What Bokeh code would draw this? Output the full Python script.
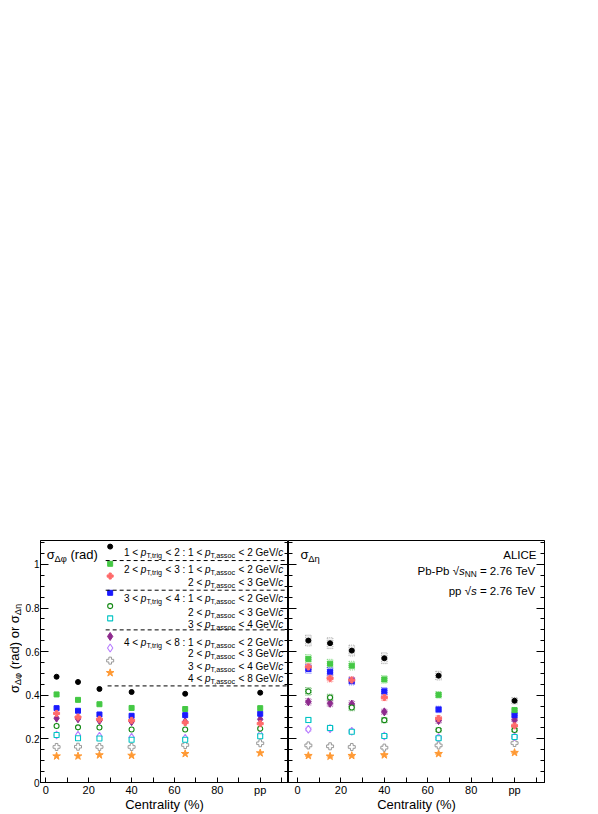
import math
from bokeh.plotting import figure
from bokeh.models import Range1d, FixedTicker, LinearAxis, Label
from bokeh.layouts import row
from bokeh.embed import file_html
from bokeh.resources import INLINE

FONT = "Liberation Sans"

# ---------------- data ----------------
centrality = [5, 15, 25, 40, 65, 100]          # 100 = pp
x_tick_values = [0, 20, 40, 60, 80, 100]
x_tick_labels = ["0", "20", "40", "60", "80", "pp"]
x_minor_values = [10, 30, 50, 70, 90, 110]
y_tick_values = [0, 0.2, 0.4, 0.6, 0.8, 1.0]
y_tick_labels = ["0", "0.2", "0.4", "0.6", "0.8", "1"]
y_minor_values = [0.05, 0.1, 0.15, 0.25, 0.3, 0.35, 0.45, 0.5, 0.55, 0.65, 0.7, 0.75,
                  0.85, 0.9, 0.95, 1.05, 1.1]

trig_lo = ["1", "2", "2", "3", "3", "3", "4", "4", "4", "4"]
trig_hi = ["2", "3", "3", "4", "4", "4", "8", "8", "8", "8"]
assoc_lo = ["1", "1", "2", "1", "2", "3", "1", "2", "3", "4"]
assoc_hi = ["2", "2", "3", "2", "3", "4", "2", "3", "4", "8"]
first_of_trig = [True, True, False, True, False, False, True, False, False, False]

# sigma_dphi (rad)
dphi_1_2_1_2 = [0.485, 0.461, 0.429, 0.415, 0.407, 0.412]
dphi_2_3_1_2 = [0.404, 0.379, 0.359, 0.342, 0.337, 0.341]
dphi_2_3_2_3 = [0.317, 0.300, 0.290, 0.285, 0.275, 0.270]
dphi_3_4_1_2 = [0.341, 0.329, 0.312, 0.306, 0.309, 0.315]
dphi_3_4_2_3 = [0.259, 0.253, 0.252, 0.243, 0.243, 0.247]
dphi_3_4_3_4 = [0.218, 0.203, 0.202, 0.196, 0.196, 0.212]
dphi_4_8_1_2 = [0.295, 0.292, 0.284, 0.279, 0.279, 0.290]
dphi_4_8_2_3 = [0.218, 0.216, 0.212, 0.207, 0.203, 0.220]
dphi_4_8_3_4 = [0.163, 0.164, 0.163, 0.163, 0.172, 0.180]
dphi_4_8_4_8 = [0.121, 0.121, 0.126, 0.124, 0.132, 0.135]

# sigma_deta
deta_1_2_1_2 = [0.651, 0.639, 0.605, 0.570, 0.490, 0.375]
deta_2_3_1_2 = [0.567, 0.545, 0.536, 0.473, 0.402, 0.332]
deta_2_3_2_3 = [0.530, 0.478, 0.470, 0.390, 0.294, 0.260]
deta_3_4_1_2 = [0.521, 0.508, 0.465, 0.418, 0.335, 0.309]
deta_3_4_2_3 = [0.418, 0.390, 0.344, 0.286, 0.241, 0.241]
deta_3_4_3_4 = [0.287, 0.250, 0.233, 0.213, 0.203, 0.209]
deta_4_8_1_2 = [0.370, 0.363, 0.360, 0.324, 0.284, 0.287]
deta_4_8_2_3 = [0.244, 0.247, 0.235, 0.213, 0.206, 0.210]
deta_4_8_3_4 = [0.170, 0.166, 0.163, 0.160, 0.170, 0.181]
deta_4_8_4_8 = [0.123, 0.120, 0.123, 0.126, 0.132, 0.137]

# systematic uncertainty (full box height) on sigma_deta
deta_sys_1_2_1_2 = [0.050, 0.050, 0.050, 0.050, 0.040, 0.030]
deta_sys_2_3_1_2 = [0.040, 0.040, 0.040, 0.035, 0.030, 0.025]
deta_sys_2_3_2_3 = [0.035, 0.035, 0.030, 0.030, 0.025, 0.020]
deta_sys_3_4_1_2 = [0.040, 0.040, 0.035, 0.035, 0.030, 0.025]
deta_sys_3_4_2_3 = [0.035, 0.030, 0.030, 0.025, 0.020, 0.020]
deta_sys_3_4_3_4 = [0.025, 0.025, 0.020, 0.020, 0.020, 0.020]
deta_sys_4_8_1_2 = [0.030, 0.030, 0.030, 0.025, 0.025, 0.020]
deta_sys_4_8_2_3 = [0.020, 0.020, 0.020, 0.020, 0.020, 0.020]
deta_sys_4_8_3_4 = [0.015, 0.015, 0.015, 0.015, 0.015, 0.015]
deta_sys_4_8_4_8 = [0.012, 0.012, 0.012, 0.012, 0.012, 0.012]

dphi_series = [dphi_1_2_1_2, dphi_2_3_1_2, dphi_2_3_2_3, dphi_3_4_1_2, dphi_3_4_2_3,
               dphi_3_4_3_4, dphi_4_8_1_2, dphi_4_8_2_3, dphi_4_8_3_4, dphi_4_8_4_8]
deta_series = [deta_1_2_1_2, deta_2_3_1_2, deta_2_3_2_3, deta_3_4_1_2, deta_3_4_2_3,
               deta_3_4_3_4, deta_4_8_1_2, deta_4_8_2_3, deta_4_8_3_4, deta_4_8_4_8]
deta_sys = [deta_sys_1_2_1_2, deta_sys_2_3_1_2, deta_sys_2_3_2_3, deta_sys_3_4_1_2, deta_sys_3_4_2_3,
            deta_sys_3_4_3_4, deta_sys_4_8_1_2, deta_sys_4_8_2_3, deta_sys_4_8_3_4, deta_sys_4_8_4_8]

# legend layout (in left-panel data units)
legend_marker_x = 30
legend_text_right = 110.8
legend_row_y = [1.082, 1.003, 0.947, 0.870, 0.809, 0.753, 0.670, 0.617, 0.559, 0.503]
legend_sep_y = [1.018, 0.882, 0.700, 0.443]
legend_sep_x0 = [27.9, 27.9, 27.9, 28.8]

styles = [
    dict(marker="circle", size=5, fill="#000000", line="#000000", lw=1),
    dict(marker="square", size=5, fill="#44c844", line="#44c844", lw=1),
    dict(marker="plus", size=6, fill="#ff6a6a", line="#ff6a6a", lw=1),
    dict(marker="square", size=5, fill="#1a1aff", line="#1a1aff", lw=1),
    dict(marker="circle", size=5, fill="white", line="#118811", lw=1.1),
    dict(marker="square", size=5, fill="white", line="#00c4c4", lw=1.1),
    dict(marker="diamond", size=8, fill="#8e2a8e", line="#8e2a8e", lw=1),
    dict(marker="diamond", size=8, fill="white", line="#b77cff", lw=1.1),
    dict(marker="plus", size=7, fill="white", line="#9a9a9a", lw=1),
    dict(marker="star", size=8, fill="#ff9933", line="#ff9933", lw=1),
]

# ---------------- text helpers ----------------
WID = {' ': 278, '\u00a0': 278, '%': 889, '(': 333, ')': 333, ',': 278, '-': 333, '.': 278,
       '/': 278, ':': 278, '<': 584, '=': 584, 'A': 667, 'C': 722, 'E': 667, 'G': 778,
       'I': 278, 'L': 556, 'N': 722, 'P': 667, 'T': 611, 'V': 667, 'a': 556, 'b': 556,
       'c': 500, 'd': 556, 'e': 556, 'g': 556, 'h': 556, 'i': 222, 'l': 222, 'n': 556,
       'o': 556, 'p': 556, 'r': 333, 's': 500, 't': 278, 'u': 556, 'y': 500, 'σ': 600,
       'Δ': 668, 'φ': 650, 'η': 556, '√': 549}


def text_width(s, size):
    return sum(WID.get(ch, 556) for ch in s) * size / 1000.0


def rich(p, x, y, pieces, size, align="left", units="data", angle=0.0, dx=0.0, dy=0.0):
    sub = size * 0.72
    ws = [text_width(t, sub if k.startswith("s") else size) for t, k in pieces]
    total = sum(ws)
    pos = {"left": 0.0, "center": -total / 2.0, "right": -total}[align]
    ca, sa = math.cos(angle), math.sin(angle)
    for (t, k), w in zip(pieces, ws):
        is_sub = k.startswith("s")
        fs = sub if is_sub else size
        drop = 0.3 * size if is_sub else 0.0
        ox = dx + pos * ca + drop * sa
        oy = dy + pos * sa - drop * ca
        p.add_layout(Label(x=x, y=y, x_units=units, y_units=units, x_offset=ox, y_offset=oy,
                           angle=angle, text=t.replace(" ", "\u00a0"), text_font=FONT,
                           text_font_size=f"{fs:.1f}px",
                           text_font_style="italic" if k.endswith("i") else "normal",
                           text_baseline="alphabetic", text_align="left", text_color="black"))
        pos += w


# ---------------- figures ----------------
H = 814
TOP = 540
BOTTOM = 30
Y_MAX = 1.11
GUTTER = 22
LEFT_BORDER = 15
FW_L = 251
FW_R = 256
RIGHT_BORDER = 50


def hide_labels(ax):
    ax.major_label_text_color = None
    ax.major_label_text_font_size = "0px"
    ax.major_label_standoff = 0


def make_fig(width, x0, x1, bl, br):
    p = figure(width=width, height=H, x_range=Range1d(x0, x1), y_range=Range1d(0, Y_MAX),
               output_backend="svg", toolbar_location=None,
               min_border_left=bl, min_border_right=br, min_border_top=TOP, min_border_bottom=BOTTOM,
               background_fill_color="white", border_fill_color="white",
               outline_line_color="black", outline_line_width=1)
    p.grid.visible = False
    xa = p.xaxis[0]
    xa.ticker = FixedTicker(ticks=x_tick_values, minor_ticks=x_minor_values)
    xa.major_label_overrides = {v: l for v, l in zip(x_tick_values, x_tick_labels)}
    xa.major_tick_in = 5
    xa.major_tick_out = 0
    xa.minor_tick_in = 5
    xa.minor_tick_out = 0
    xa.major_label_standoff = 1
    xa.major_label_text_font = FONT
    xa.major_label_text_font_size = "11px"
    xa.major_label_text_color = "black"
    xa.axis_line_color = "black"
    xa.axis_label = "Centrality (%)"
    xa.axis_label_text_font = FONT
    xa.axis_label_text_font_size = "13px"
    xa.axis_label_text_font_style = "normal"
    xa.axis_label_text_color = "black"
    xa.axis_label_standoff = -2
    ya = p.yaxis[0]
    ya.ticker = FixedTicker(ticks=y_tick_values, minor_ticks=y_minor_values)
    ya.major_tick_in = 8
    ya.major_tick_out = 0
    ya.minor_tick_in = 4
    ya.minor_tick_out = 0
    ya.axis_line_color = "black"
    hide_labels(ya)
    ra = LinearAxis(ticker=FixedTicker(ticks=y_tick_values, minor_ticks=y_minor_values),
                    major_tick_in=8, major_tick_out=0, minor_tick_in=4, minor_tick_out=0,
                    axis_line_color="black")
    hide_labels(ra)
    p.add_layout(ra, "right")
    return p


left = make_fig(LEFT_BORDER + FW_L, -2.5, 113.2, LEFT_BORDER, 0)
right = make_fig(FW_R + RIGHT_BORDER, -4.15, 113.8, 0, RIGHT_BORDER)

# visible y tick labels on the left panel
ly = left.yaxis[0]
ly.major_label_overrides = {v: l for v, l in zip(y_tick_values, y_tick_labels)}
ly.major_label_text_color = "black"
ly.major_label_text_font = FONT
ly.major_label_text_font_size = "10px"
ly.major_label_standoff = 1

# gutter holding the y-axis title
gut = figure(width=GUTTER, height=H, x_range=Range1d(0, GUTTER), y_range=Range1d(0, Y_MAX),
             output_backend="svg", toolbar_location=None, min_border_left=0, min_border_right=0,
             min_border_top=TOP, min_border_bottom=BOTTOM, outline_line_color=None,
             background_fill_color="white", border_fill_color="white")
gut.axis.visible = False
gut.grid.visible = False
rich(gut, 13.5, 134, [("σ", "n"), ("Δφ", "s"), (" (rad) or ", "n"), ("σ", "n"), ("Δη", "s")],
     13.0, align="center", units="screen", angle=math.pi / 2)

# sys boxes (right panel)
for vals, sys, st in zip(deta_series, deta_sys, styles):
    col = "#808080" if st["fill"] == "#000000" else st["line"]
    right.rect(x=centrality, y=vals, width=2.6, height=sys, fill_color=col, fill_alpha=0.12,
               line_color=col, line_alpha=0.6, line_dash="1 1", line_width=1)

for p, series in ((left, dphi_series), (right, deta_series)):
    for vals, st in reversed(list(zip(series, styles))):
        p.scatter(x=centrality, y=vals, marker=st["marker"], size=st["size"],
                  fill_color=st["fill"], line_color=st["line"], line_width=st["lw"])

# legend
for i, st in enumerate(styles):
    left.scatter(x=[legend_marker_x], y=[legend_row_y[i]], marker=st["marker"], size=st["size"],
                 fill_color=st["fill"], line_color=st["line"], line_width=st["lw"])
    pieces = []
    if first_of_trig[i]:
        pieces += [(trig_lo[i] + " < ", "n"), ("p", "i"), ("T,trig", "s"),
                   (" < " + trig_hi[i] + " : ", "n")]
    pieces += [(assoc_lo[i] + " < ", "n"), ("p", "i"), ("T,assoc", "s"),
               (" < " + assoc_hi[i] + " GeV/", "n"), ("c", "i")]
    rich(left, legend_text_right, legend_row_y[i], pieces, 10.0, align="right", dy=-6)

left.segment(x0=legend_sep_x0, x1=[113.2] * 4, y0=legend_sep_y, y1=legend_sep_y,
             line_color="black", line_dash="4 3", line_width=1)

# panel titles
rich(left, 0.4, 1.045, [("σ", "n"), ("Δφ", "s"), (" (rad)", "n")], 13.0)
rich(right, 1.4, 1.045, [("σ", "n"), ("Δη", "s")], 13.0)
rich(right, 110.1, 1.045, [("ALICE", "n")], 11.5, align="right")
rich(right, 110.1, 0.970, [("Pb-Pb ", "n"), ("√", "n"), ("s", "i"), ("NN", "s"),
                            (" = 2.76 TeV", "n")], 11.5, align="right")
rich(right, 110.1, 0.880, [("pp ", "n"), ("√", "n"), ("s", "i"), (" = 2.76 TeV", "n")],
     11.5, align="right")

layout = row(gut, left, right)
open("out.html", "w").write(file_html(layout, INLINE))
